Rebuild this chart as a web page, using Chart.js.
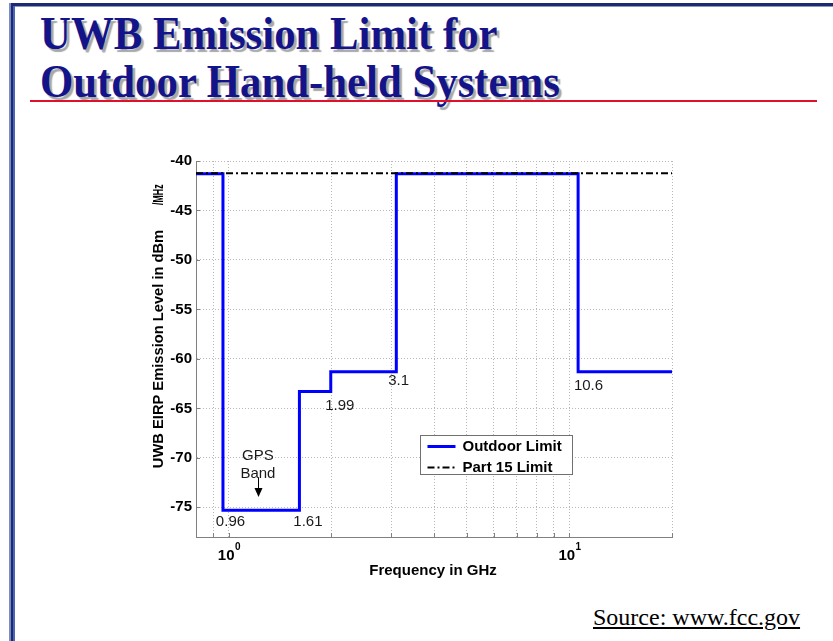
<!DOCTYPE html>
<html lang="en">
<head>
    <meta charset="UTF-8">
    <title>UWB Emission Limit for Outdoor Hand-held Systems</title>
    <script src="https://cdn.jsdelivr.net/npm/chart.js"></script>
    <style>
        html, body { margin: 0; padding: 0; background: #fff; }
        #slide { position: relative; width: 833px; height: 641px; overflow: hidden; background: #fff; }
        .bar { position: absolute; }
        .title {
            position: absolute;
            left: 40px;
            font-family: 'Liberation Serif', 'Times New Roman', serif;
            font-weight: bold;
            font-size: 46px;
            line-height: 46px;
            color: #14148a;
            white-space: nowrap;
            transform: scaleX(0.93);
            transform-origin: left top;
            text-shadow: 3px 3px 1px #a8a8a8;
        }
        #rule { position: absolute; left: 30px; top: 100px; width: 787px; height: 2px; background: #e0102a; }
        #source {
            position: absolute;
            left: 593px;
            top: 605px;
            font-family: 'Liberation Serif', 'Times New Roman', serif;
            font-size: 24px;
            line-height: 24px;
            color: #000;
            text-decoration: underline;
            white-space: nowrap;
        }
        #chartBox { position: absolute; left: 0; top: 0; width: 833px; height: 641px; }
    </style>
</head>
<body>
<div id="slide">
    <!-- slide frame -->
    <div class="bar" style="left:9px; top:3px; width:824px; height:3px; background:#1c2870;"></div>
    <div class="bar" style="left:13px; top:6px; width:820px; height:1px; background:#8a98c4;"></div>
    <div class="bar" style="left:9px; top:3px; width:2px; height:638px; background:#7b8cc0;"></div>
    <div class="bar" style="left:11px; top:3px; width:2px; height:638px; background:#1c2870;"></div>
    <div class="bar" style="left:13px; top:6px; width:2px; height:635px; background:#4a64b8;"></div>

    <div class="title" style="top:11px;">UWB Emission Limit for</div>
    <div class="title" style="top:59px;">Outdoor Hand-held Systems</div>
    <div id="rule"></div>
    <div id="source">Source: www.fcc.gov</div>

    <div id="chartBox"><canvas id="chart" width="833" height="641"></canvas></div>
</div>

<script>
    // step edges (GHz) and the level that starts at each edge (dBm/MHz)
    const freqEdges = [0.8, 0.96, 1.61, 1.99, 3.1, 10.6, 20];
    const outdoorLimit = [-41.3, -75.3, -63.3, -61.3, -41.3, -61.3, -61.3];
    const part15Freq = [0.8, 20];
    const part15Limit = [-41.25, -41.25];

    const yTicks = [-75, -70, -65, -60, -55, -50, -45, -40];
    const xGrid = [0.8, 0.9, 1, 2, 3, 4, 5, 6, 7, 8, 9, 10, 20];
    const xTickValues = [1, 10];
    const xTickExponents = ['0', '1'];

    // text notes inside the plot
    const noteText = ['0.96', '1.61', '1.99', '3.1', '10.6', 'GPS', 'Band'];
    const noteFreq = [1.01, 1.705, 2.116, 3.15, 11.37, 1.216, 1.216];
    const noteLevel = [-76.5, -76.5, -64.75, -62.2, -62.7, -69.8, -71.6];

    // GPS arrow: frequency, start level, tip level
    const arrowFreq = 1.216;
    const arrowLevels = [-72.0, -73.95];

    const FONT = "'Liberation Sans', Arial, sans-serif";

    // Draws everything MATLAB-ish that Chart.js has no option for
    const decorPlugin = {
        id: 'decor',
        afterDatasetsDraw(chart) {
            const ctx = chart.ctx;
            const x = chart.scales.x, y = chart.scales.y;
            const area = chart.chartArea;
            ctx.save();

            // small inner tick marks
            ctx.strokeStyle = '#808080';
            ctx.lineWidth = 1;
            ctx.beginPath();
            xGrid.forEach(v => {
                const px = Math.round(x.getPixelForValue(v)) + 0.5;
                ctx.moveTo(px, area.bottom);
                ctx.lineTo(px, area.bottom - 4);
            });
            yTicks.forEach(v => {
                const py = Math.round(y.getPixelForValue(v)) + 0.5;
                ctx.moveTo(area.left, py);
                ctx.lineTo(area.left + 4, py);
            });
            ctx.stroke();

            // x tick labels as powers of ten
            ctx.fillStyle = '#000';
            ctx.textBaseline = 'alphabetic';
            xTickValues.forEach((v, i) => {
                const px = x.getPixelForValue(v);
                ctx.font = 'bold 15px ' + FONT;
                const wBase = ctx.measureText('10').width;
                ctx.font = 'bold 10px ' + FONT;
                const wExp = ctx.measureText(xTickExponents[i]).width;
                const start = px - (wBase + wExp) / 2;
                ctx.font = 'bold 15px ' + FONT;
                ctx.textAlign = 'left';
                ctx.fillText('10', start, area.bottom + 23);
                ctx.font = 'bold 10px ' + FONT;
                ctx.fillText(xTickExponents[i], start + wBase + 0.5, area.bottom + 13);
            });

            // x axis title
            ctx.font = 'bold 15px ' + FONT;
            ctx.textAlign = 'center';
            ctx.fillText('Frequency in GHz', (area.left + area.right) / 2 - 1, area.bottom + 38);

            // y axis title (rotated)
            const midY = (area.top + area.bottom) / 2;
            ctx.save();
            ctx.translate(area.left - 37, midY);
            ctx.rotate(-Math.PI / 2);
            ctx.textBaseline = 'middle';
            ctx.textAlign = 'center';
            ctx.font = 'bold 14.7px ' + FONT;
            ctx.fillText('UWB EIRP Emission Level in dBm', 0, 0);
            ctx.translate(144, 0);
            ctx.scale(0.6, 1);
            ctx.textAlign = 'left';
            ctx.fillText('/MHz', 0, 0);
            ctx.restore();

            // notes
            ctx.font = '15px ' + FONT;
            ctx.fillStyle = '#1a1a1a';
            ctx.textAlign = 'center';
            ctx.textBaseline = 'middle';
            noteText.forEach((t, i) => {
                ctx.fillText(t, x.getPixelForValue(noteFreq[i]), y.getPixelForValue(noteLevel[i]));
            });

            // GPS arrow
            const ax = Math.round(x.getPixelForValue(arrowFreq)) + 0.5;
            const ay1 = y.getPixelForValue(arrowLevels[0]);
            const ay2 = y.getPixelForValue(arrowLevels[1]);
            ctx.strokeStyle = '#000';
            ctx.lineWidth = 1;
            ctx.beginPath();
            ctx.moveTo(ax, ay1);
            ctx.lineTo(ax, ay2 - 8);
            ctx.stroke();
            ctx.fillStyle = '#000';
            ctx.beginPath();
            ctx.moveTo(ax - 4, ay2 - 9);
            ctx.lineTo(ax + 4, ay2 - 9);
            ctx.lineTo(ax, ay2);
            ctx.closePath();
            ctx.fill();

            // legend box inside the plot
            const lx = area.left + 224.5, ly = area.top + 274.5;
            const lw = 152, lh = 39;
            ctx.fillStyle = '#fff';
            ctx.fillRect(lx, ly, lw, lh);
            ctx.strokeStyle = '#707070';
            ctx.lineWidth = 1;
            ctx.strokeRect(lx, ly, lw, lh);
            const order = [1, 0];
            order.forEach((di, row) => {
                const ds = chart.data.datasets[di];
                const ry = ly + 11 + row * 21;
                ctx.save();
                ctx.strokeStyle = ds.borderColor;
                ctx.lineWidth = ds.borderWidth;
                ctx.setLineDash(ds.borderDash || []);
                ctx.beginPath();
                ctx.moveTo(lx + 7, ry);
                ctx.lineTo(lx + 35, ry);
                ctx.stroke();
                ctx.restore();
                ctx.fillStyle = '#000';
                ctx.font = 'bold 15px ' + FONT;
                ctx.textAlign = 'left';
                ctx.textBaseline = 'middle';
                ctx.fillText(ds.label, lx + 42, ry);
            });

            ctx.restore();
        }
    };

    new Chart(document.getElementById('chart'), {
        type: 'line',
        data: {
            datasets: [
                {
                    label: 'Part 15 Limit',
                    data: part15Freq.map((f, i) => ({ x: f, y: part15Limit[i] })),
                    borderColor: '#000000',
                    borderWidth: 2,
                    borderDash: [7, 3, 2, 3],
                    pointRadius: 0,
                    order: 0
                },
                {
                    label: 'Outdoor Limit',
                    data: freqEdges.map((f, i) => ({ x: f, y: outdoorLimit[i] })),
                    stepped: 'before',
                    borderColor: '#0000ff',
                    borderWidth: 3,
                    pointRadius: 0,
                    order: 1
                }
            ]
        },
        options: {
            responsive: false,
            animation: false,
            layout: { padding: { left: 146, right: 161, top: 161, bottom: 64 } },
            plugins: {
                legend: { display: false },
                tooltip: { enabled: false }
            },
            scales: {
                x: {
                    type: 'logarithmic',
                    min: 0.8,
                    max: 20,
                    afterBuildTicks: s => { s.ticks = xGrid.map(v => ({ value: v })); },
                    afterFit: s => { s.height = 40; },
                    ticks: { display: false },
                    grid: { color: '#b8b8b8', lineWidth: 1, drawTicks: false },
                    border: { color: '#808080', width: 1, dash: [1, 2] }
                },
                y: {
                    type: 'linear',
                    min: -78,
                    max: -40,
                    afterBuildTicks: s => { s.ticks = yTicks.map(v => ({ value: v })); },
                    afterFit: s => { s.width = 50; },
                    ticks: {
                        padding: 4,
                        color: '#000',
                        font: { family: FONT, size: 15, weight: 'bold' }
                    },
                    grid: { color: '#b8b8b8', lineWidth: 1, drawTicks: false },
                    border: { color: '#808080', width: 1, dash: [1, 2] }
                }
            }
        },
        plugins: [decorPlugin]
    });
</script>
</body>
</html>
